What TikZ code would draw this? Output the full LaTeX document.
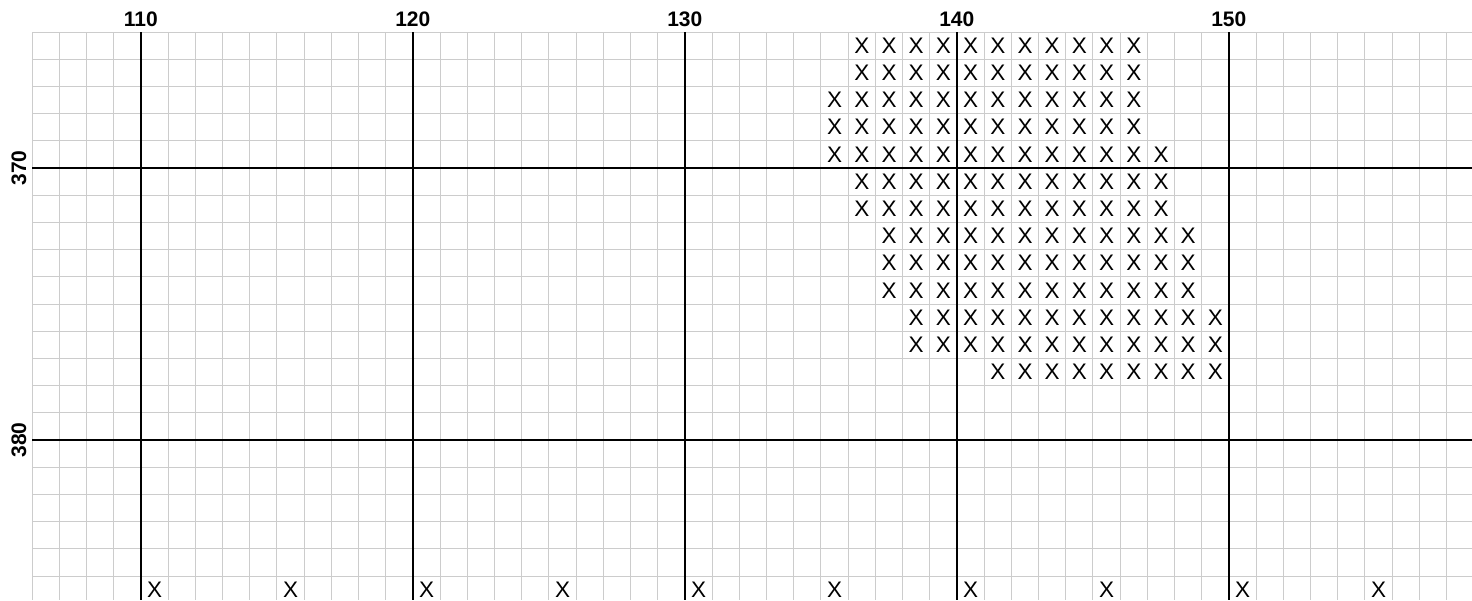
\documentclass[tikz,border=0pt]{standalone}
\usepackage{fontspec}
\setmainfont{Liberation Sans}
\definecolor{gridgray}{HTML}{CCCCCC}
\tikzset{
  thin grid/.style={draw=gridgray, line width=1pt},
  thick grid/.style={draw=black, line width=2.6pt},
  mark x/.style={inner sep=0pt, anchor=center, font=\fontsize{22.5}{22.5}\selectfont},
  col label/.style={inner sep=0pt, anchor=base, font=\fontsize{21}{21}\selectfont\bfseries},
  row label/.style={inner sep=0pt, anchor=base, rotate=90, font=\fontsize{21}{21}\selectfont\bfseries}
}
\begin{document}
\begin{tikzpicture}[x=1pt,y=-1pt]
\useasboundingbox (0,0) rectangle (1472,600);
\fill[white] (0,0) rectangle (1472,600);
% thin grid
\foreach \k in {0,...,52} {
  \draw[thin grid] ({32+\k*27.2},32) -- ({32+\k*27.2},600);
}
\foreach \k in {0,...,20} {
  \draw[thin grid] (32,{32+\k*27.2}) -- (1472,{32+\k*27.2});
}
% thick lines
\foreach \k/\lab in {4/110,14/120,24/130,34/140,44/150} {
  \draw[thick grid] ({32+\k*27.2},32) -- ({32+\k*27.2},600);
  \node[col label] (c\lab) at ({32+\k*27.2},26) {\lab};
}
\foreach \k/\lab in {5/370,15/380} {
  \draw[thick grid] (32,{32+\k*27.2}) -- (1472,{32+\k*27.2});
  \node[row label] (r\lab) at (26,{32+\k*27.2}) {\lab};
}
% X marks
\foreach \r/\a/\b in {0/136/146,1/136/146,2/135/146,3/135/146,4/135/147,5/136/147,6/136/147,7/137/148,8/137/148,9/137/148,10/138/149,11/138/149,12/141/149} {
  \foreach \c in {\a,...,\b} {
    \node[mark x] (x-\r-\c) at ({32+(\c-106)*27.2+13.8},{32+\r*27.2+13.6}) {X};
  }
}
\foreach \c in {110,115,...,155} {
  \node[mark x] (x-20-\c) at ({32+(\c-106)*27.2+13.8},{32+20*27.2+13.6}) {X};
}
\end{tikzpicture}
\end{document}
